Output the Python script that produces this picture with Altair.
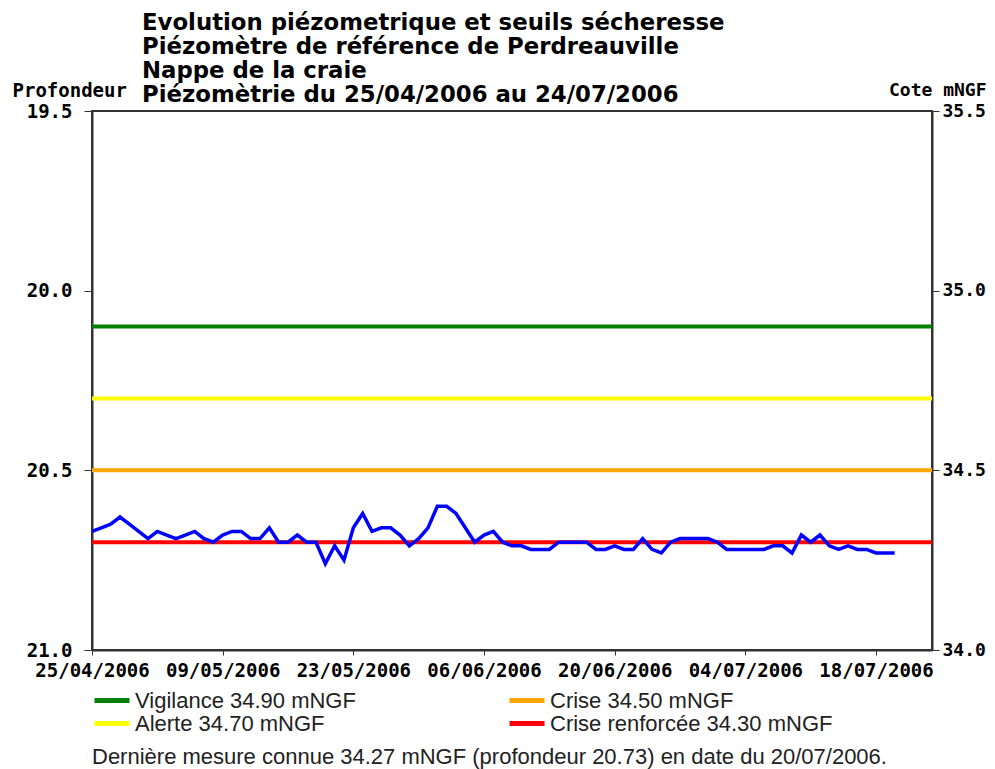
import altair as alt
import pandas as pd

# ---- data ----
start_date = "2006-04-25"
cote_values = [34.33, 34.34, 34.35, 34.37, 34.35, 34.33, 34.31, 34.33, 34.32, 34.31,
               34.32, 34.33, 34.31, 34.30, 34.32, 34.33, 34.33, 34.31, 34.31, 34.34,
               34.30, 34.30, 34.32, 34.30, 34.30, 34.24, 34.29, 34.25, 34.34, 34.38,
               34.33, 34.34, 34.34, 34.32, 34.29, 34.31, 34.34, 34.40, 34.40, 34.38,
               34.34, 34.30, 34.32, 34.33, 34.30, 34.29, 34.29, 34.28, 34.28, 34.28,
               34.30, 34.30, 34.30, 34.30, 34.28, 34.28, 34.29, 34.28, 34.28, 34.31,
               34.28, 34.27, 34.30, 34.31, 34.31, 34.31, 34.31, 34.30, 34.28, 34.28,
               34.28, 34.28, 34.28, 34.29, 34.29, 34.27, 34.32, 34.30, 34.32, 34.29,
               34.28, 34.29, 34.28, 34.28, 34.27, 34.27, 34.27]

threshold_names = ["Vigilance 34.90 mNGF", "Alerte 34.70 mNGF",
                   "Crise 34.50 mNGF", "Crise renforcée 34.30 mNGF"]
threshold_cotes = [34.90, 34.70, 34.50, 34.30]
threshold_colors = ["#008000", "#ffff00", "#ffa500", "#ff0000"]

title_lines = ["Evolution piézometrique et seuils sécheresse",
               "Piézomètre de référence de Perdreauville",
               "Nappe de la craie",
               "Piézomètrie du 25/04/2006 au 24/07/2006"]
footer_text = "Dernière mesure connue 34.27 mNGF (profondeur  20.73) en date du 20/07/2006."
date_ticks = [(2006, 4, 25), (2006, 5, 9), (2006, 5, 23), (2006, 6, 6),
              (2006, 6, 20), (2006, 7, 4), (2006, 7, 18)]
x_domain = [(2006, 4, 25), (2006, 7, 24)]
depth_ticks = [19.5, 20.0, 20.5, 21.0]
cote_ticks = [34.0, 34.5, 35.0, 35.5]
depth_plus_cote = 55.0

# ---- tables ----
dates = pd.date_range(start_date, periods=len(cote_values)).strftime("%Y-%m-%d")
series = pd.DataFrame({"date": dates, "cote": cote_values})
thresholds = pd.DataFrame({"name": threshold_names, "cote": threshold_cotes})
footer = pd.DataFrame({"t": [footer_text]})

W, H = 840, 539
MONO = "DejaVu Sans Mono"


def dt(t):
    return alt.DateTime(year=t[0], month=t[1], date=t[2], utc=True)


x_scale = alt.Scale(type="utc", domain=[dt(x_domain[0]), dt(x_domain[1])])

x_enc = alt.X(
    "date:T", scale=x_scale,
    axis=alt.Axis(values=[dt(t) for t in date_ticks],
                  labelExpr="utcFormat(datum.value, '%d/%m/%Y')",
                  title=None, grid=False, labelFont=MONO,
                  labelFontWeight="bold", labelFontSize=19, labelColor="black",
                  tickSize=5, labelPadding=6, labelOverlap=False,
                  labelFlush=False, domainColor="#333", tickColor="#333",
                  domainWidth=2),
)

# left axis (profondeur) carried by the measured line
line = alt.Chart(series).transform_calculate(
    depth=f"{depth_plus_cote} - datum.cote"
).mark_line(color="#0000ff", strokeWidth=3.5).encode(
    x=x_enc,
    y=alt.Y("depth:Q", scale=alt.Scale(domain=[19.5, 21.0], reverse=True, nice=False, zero=False),
            axis=alt.Axis(values=depth_ticks, format=".1f", title="Profondeur",
                          titleAngle=0, titleX=-80, titleY=-21, titleAlign="left",
                          titleBaseline="middle", titleFont=MONO, titleFontWeight="bold",
                          titleFontSize=19, titleColor="black",
                          labelFont=MONO, labelFontWeight="bold", labelFontSize=19,
                          labelColor="black", tickSize=8, labelPadding=12, grid=False,
                          domainColor="#333", tickColor="#333", domainWidth=2)),
)

rules = alt.Chart(thresholds).mark_rule(strokeWidth=4).encode(
    y=alt.Y("cote:Q", scale=alt.Scale(domain=[34.0, 35.5], nice=False, zero=False),
            axis=alt.Axis(orient="right", values=cote_ticks, format=".1f", title="Cote mNGF",
                          titleAngle=0, titleX=54, titleY=-21, titleAlign="right",
                          titleBaseline="middle", titleFont=MONO, titleFontWeight="bold",
                          titleFontSize=18, titleColor="black",
                          labelFont=MONO, labelFontWeight="bold", labelFontSize=18,
                          labelColor="black", tickSize=7, labelPadding=3, grid=False,
                          domainColor="#333", tickColor="#333", domainWidth=2)),
    stroke=alt.Stroke("name:N", scale=alt.Scale(domain=threshold_names, range=threshold_colors),
                      legend=alt.Legend(orient="none", legendX=0, legendY=578, columns=2,
                                        columnPadding=151, rowPadding=0, clipHeight=23,
                                        title=None,
                                        symbolType="stroke", symbolStrokeWidth=5,
                                        symbolSize=1225, labelFont="Liberation Sans",
                                        labelFontSize=22, labelColor="#222", labelOffset=3,
                                        labelLimit=0)),
)

foot = alt.Chart(footer).mark_text(
    align="left", baseline="middle", font="Liberation Sans", fontSize=22, color="#222"
).encode(x=alt.value(0), y=alt.value(646), text="t:N")

chart = alt.layer(rules, line, foot).resolve_scale(y="independent").properties(
    width=W, height=H,
    autosize=alt.AutoSizeParams(type="none"),
    padding={"left": 84, "top": 103, "right": 55, "bottom": 120},
    title=alt.TitleParams(text=title_lines, anchor="start", frame="group", dx=50,
                          dy=32, offset=6, font="DejaVu Sans", fontWeight="bold", fontSize=22.8,
                          lineHeight=24, color="black"),
).configure_view(stroke="#333", strokeWidth=2)

chart.save("out.html", embed_options={"renderer": "svg", "actions": False})
